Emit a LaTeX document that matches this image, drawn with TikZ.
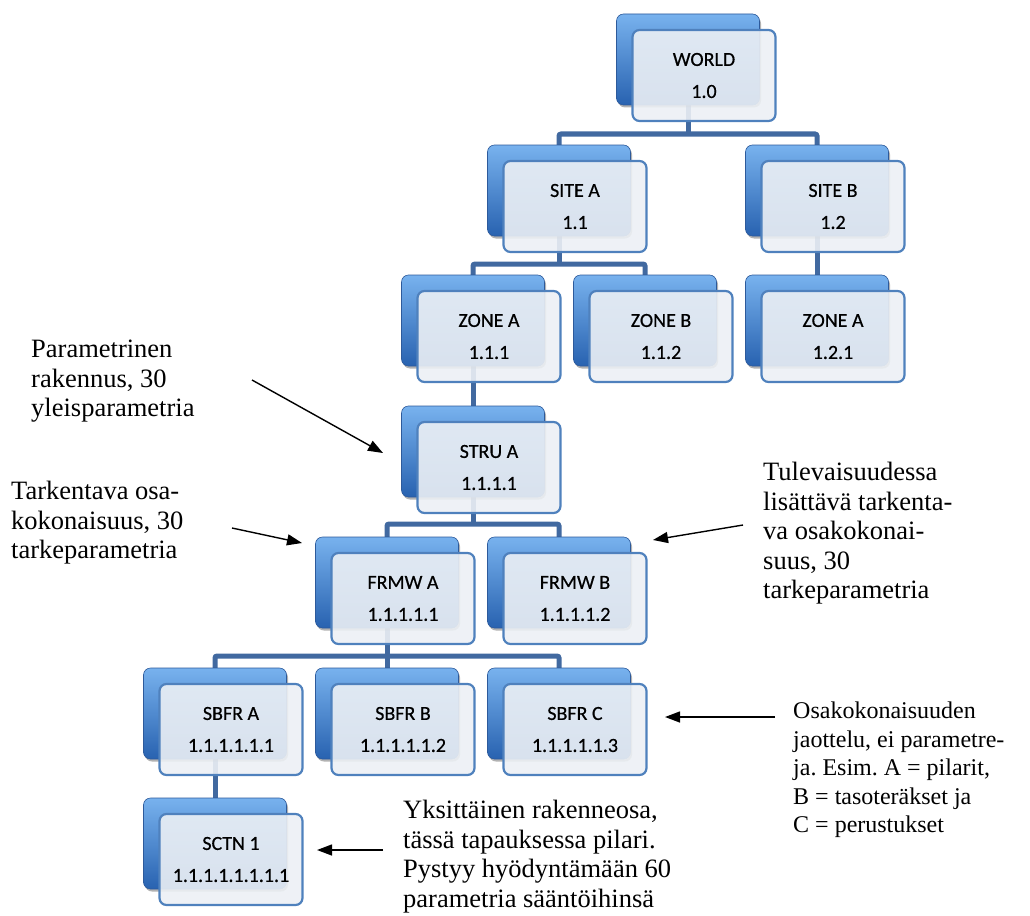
\documentclass[tikz,border=0pt]{standalone}
\usepackage{fontspec}
\setmainfont{Liberation Serif}
\newfontfamily\carlito{Carlito}[FakeBold=0.5]
\usetikzlibrary{arrows.meta,backgrounds}
\frenchspacing
\definecolor{conncol}{RGB}{65,105,160}
\definecolor{bluetop}{RGB}{120,178,238}
\definecolor{bluemid}{RGB}{58,128,214}
\definecolor{bluebot}{RGB}{40,98,176}
\definecolor{blueedge}{RGB}{45,90,155}
\definecolor{frontfill}{RGB}{236,240,245}
\definecolor{frontedge}{RGB}{79,129,189}
\tikzset{
  shadowbox/.style={rectangle, rounded corners=7pt, minimum width=143pt, minimum height=91pt,
    inner sep=0pt, outer sep=0pt, fill=black, fill opacity=0.3},
  backbox/.style={rectangle, rounded corners=7pt, minimum width=143pt, minimum height=91pt,
    inner sep=0pt, outer sep=0pt, top color=bluetop, middle color=bluemid, bottom color=bluebot,
    draw=blueedge, line width=0.6pt},
  frontbox/.style={rectangle, rounded corners=7pt, minimum width=143pt, minimum height=91pt,
    inner sep=0pt, outer sep=0pt, fill=frontfill, fill opacity=0.9, text opacity=1,
    draw=frontedge, line width=2.2pt, align=center,
    font=\carlito\fontsize{20}{32}\selectfont, text=black},
  conn/.style={draw=conncol, line width=5pt, rounded corners=2pt},
  note/.style={anchor=north west, inner sep=0pt, align=left,
    font=\fontsize{26.5}{29.5}\selectfont},
  smallnote/.style={note, font=\fontsize{24}{28.5}\selectfont},
  pointer/.style={-{Triangle[length=15pt,width=11pt]}, line width=1.4pt, black},
}
\newcommand\orgbox[4]{%
  \node[shadowbox] (#1s) at (#2+1.5, #3+48) {};
  \node[backbox] (#1) at (#2, #3+45.5) {};
  \node[frontbox] (#1f) at (#2+16, #3+61.5) {#4};
}
\begin{document}
\begin{tikzpicture}[x=1pt, y=-1pt]
\useasboundingbox (0,0) rectangle (1030,915);

\orgbox{world}{688}{14}{WORLD\\1.0}
\orgbox{sitea}{559}{145}{SITE A\\1.1}
\orgbox{siteb}{817}{145}{SITE B\\1.2}
\orgbox{zonea}{473}{275}{ZONE A\\1.1.1}
\orgbox{zoneb}{645}{275}{ZONE B\\1.1.2}
\orgbox{zoneaa}{817}{275}{ZONE A\\1.2.1}
\orgbox{strua}{473}{406}{STRU A\\1.1.1.1}
\orgbox{frmwa}{387}{537}{FRMW A\\1.1.1.1.1}
\orgbox{frmwb}{559}{537}{FRMW B\\1.1.1.1.2}
\orgbox{sbfra}{215}{668}{SBFR A\\1.1.1.1.1.1}
\orgbox{sbfrb}{387}{668}{SBFR B\\1.1.1.1.1.2}
\orgbox{sbfrc}{559}{668}{SBFR C\\1.1.1.1.1.3}
\orgbox{sctn}{215}{798}{SCTN 1\\1.1.1.1.1.1.1.1}

\coordinate (bus1) at (688,134);
\coordinate (bus2) at (559,264);
\coordinate (bus4) at (473,524);
\coordinate (bus5) at (387,656);

\begin{pgfonlayer}{background}
  \draw[conn] (world.center) -- (bus1);
  \draw[conn] (sitea.north) |- (bus1) -| (siteb.north);
  \draw[conn] (sitea.center) -- (bus2);
  \draw[conn] (zonea.north) |- (bus2) -| (zoneb.north);
  \draw[conn] (siteb.center) -- (zoneaa.north);
  \draw[conn] (zonea.center) -- (strua.north);
  \draw[conn] (strua.center) -- (bus4);
  \draw[conn] (frmwa.north) |- (bus4) -| (frmwb.north);
  \draw[conn] (frmwa.center) -- (bus5);
  \draw[conn] (sbfra.north) |- (bus5) -| (sbfrc.north);
  \draw[conn] (bus5) -- (sbfrb.north);
  \draw[conn] (sbfra.center) -- (sctn.north);
\end{pgfonlayer}

\node[note] (n1) at (31,340) {Parametrinen\\rakennus, 30\\yleisparametria};
\node[note] (n2) at (11,481) {Tarkentava osa-\\kokonaisuus, 30\\tarkeparametria};
\node[note] (n3) at (763,462) {Tulevaisuudessa\\lisättävä tarkenta-\\va osakokonai-\\suus, 30\\tarkeparametria};
\node[smallnote] (n4) at (793,702) {Osakokonaisuuden\\jaottelu, ei parametre-\\ja. Esim. A = pilarit,\\B = tasoteräkset ja\\C = perustukset};
\node[note] (n5) at (403,800) {Yksittäinen rakenneosa,\\tässä tapauksessa pilari.\\Pystyy hyödyntämään 60\\parametria sääntöihinsä};

\coordinate (a1s) at (252,380); \coordinate (a1e) at (383,453);
\coordinate (a2s) at (232,528); \coordinate (a2e) at (302,543);
\coordinate (a3s) at (743,525); \coordinate (a3e) at (653,540);
\coordinate (a4s) at (775,717); \coordinate (a4e) at (665,717);
\coordinate (a5s) at (383,850); \coordinate (a5e) at (317,850);
\draw[pointer] (a1s) -- (a1e);
\draw[pointer] (a2s) -- (a2e);
\draw[pointer] (a3s) -- (a3e);
\draw[pointer] (a4s) -- (a4e);
\draw[pointer] (a5s) -- (a5e);
\end{tikzpicture}
\end{document}
